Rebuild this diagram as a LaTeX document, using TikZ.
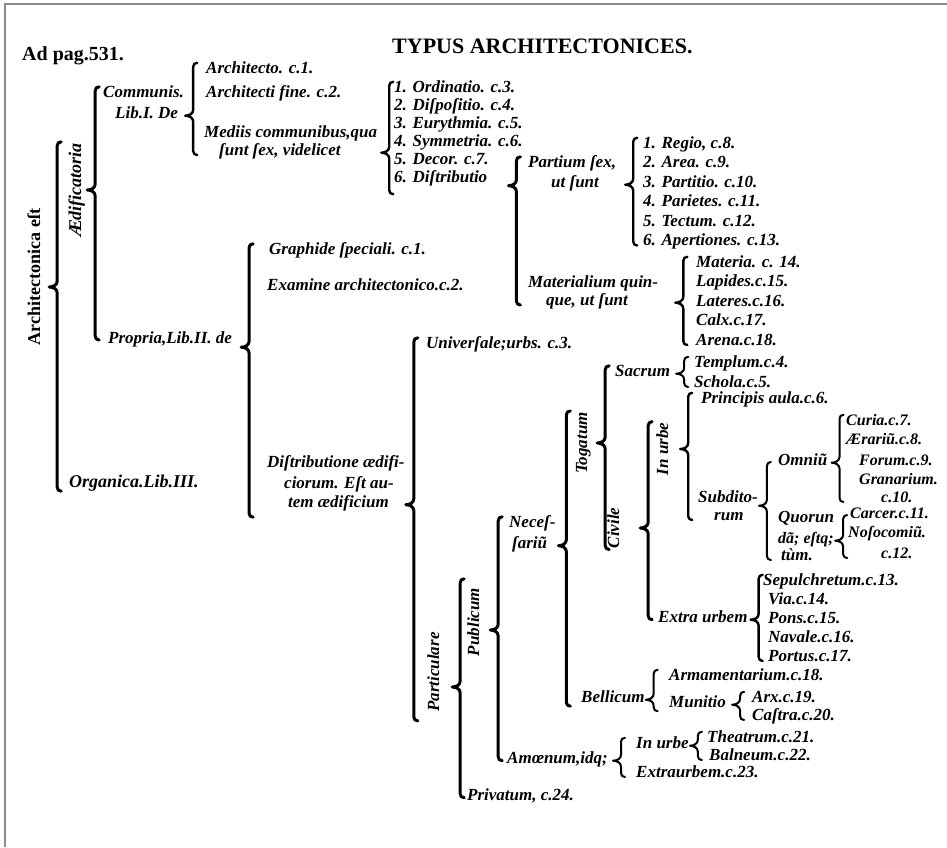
\documentclass[tikz,border=0pt]{standalone}
\usepackage{fontspec}
\setmainfont{Liberation Serif}
\usetikzlibrary{positioning,calc}

\begin{document}
\begin{tikzpicture}[
  x=1pt, y=-1pt,
  lbl/.style={font=\bfseries\itshape\fontsize{17}{20}\selectfont, inner sep=1pt,
              text height=9pt, text depth=3pt, anchor=base west},
  sml/.style={lbl, font=\bfseries\itshape\fontsize{16}{19}\selectfont},
  rot/.style={lbl, rotate=90, anchor=center},
  brc/.style={line width=#1, line cap=round, line join=round},
  brc/.default=2pt,
  brk/.style={to path={let \p1=(\tikztostart), \p2=(\tikztotarget),
      \n1={sign(\y2-\y1)} in
      .. controls (\x1+4pt,\y1) and (\x1+8pt,\y1+\n1*2pt) .. (\x1+8pt,\y1+\n1*6pt)
      -- (\x1+8pt,\y2-\n1*4pt)
      .. controls (\x1+8pt,\y2-\n1*1.5pt) and (\x1+9.5pt,\y2) .. (\x1+12pt,\y2)}},
]
  \useasboundingbox (0,0) rectangle (947,847);
  \draw[black!45, line width=2pt] (947,4) -- (5,4) -- (5,847);

  % heading
  \node[lbl, font=\bfseries\fontsize{20}{22}\selectfont] (pag) at (21,60) {Ad pag.531.};
  \node[lbl, font=\bfseries\fontsize{22}{26}\selectfont] (title) at (391,53) {TYPUS ARCHITECTONICES.};

  % first division
  \node[rot, font=\bfseries\fontsize{18}{22}\selectfont] (arch) at (37,277) {Architectonica eſt};
  \node[rot, font=\bfseries\itshape\fontsize{18}{20}\selectfont] (aedif) at (78,190) {Ædificatoria};
  \node[lbl, font=\bfseries\itshape\fontsize{18}{20}\selectfont] (organ) at (68,487) {Organica.Lib.III.};

  % Lib. I
  \node[lbl] (comm1) at (102,97) {Communis.};
  \node[lbl] (comm2) at (114,118) {Lib.I. De};
  \node[lbl] (arc1) at (205,73) {Architecto. c.1.};
  \node[lbl, below=24pt of arc1.base west, anchor=base west] (arc2) {Architecti fine. c.2.};
  \node[lbl] (med1) at (203,137) {Mediis communibus,qua};
  \node[lbl] (med2) at (218,155) {ſunt ſex, videlicet};

  \node[lbl] (ord1) at (393,92) {1. Ordinatio. c.3.};
  \node[lbl, below=18pt of ord1.base west, anchor=base west] (ord2) {2. Diſpoſitio. c.4.};
  \node[lbl, below=18pt of ord2.base west, anchor=base west] (ord3) {3. Eurythmia. c.5.};
  \node[lbl, below=18pt of ord3.base west, anchor=base west] (ord4) {4. Symmetria. c.6.};
  \node[lbl, below=18pt of ord4.base west, anchor=base west] (ord5) {5. Decor. c.7.};
  \node[lbl, below=18pt of ord5.base west, anchor=base west] (ord6) {6. Diſtributio};

  \node[lbl] (part1) at (527,167) {Partium ſex,};
  \node[lbl] (part2) at (550,187) {ut ſunt};
  \node[lbl] (reg1) at (642,148) {1. Regio, c.8.};
  \node[lbl, below=19.5pt of reg1.base west, anchor=base west] (reg2) {2. Area. c.9.};
  \node[lbl, below=19.5pt of reg2.base west, anchor=base west] (reg3) {3. Partitio. c.10.};
  \node[lbl, below=19.5pt of reg3.base west, anchor=base west] (reg4) {4. Parietes. c.11.};
  \node[lbl, below=19.5pt of reg4.base west, anchor=base west] (reg5) {5. Tectum. c.12.};
  \node[lbl, below=19.5pt of reg5.base west, anchor=base west] (reg6) {6. Apertiones. c.13.};

  \node[lbl] (mat1) at (527,287) {Materialium quin-};
  \node[lbl] (mat2) at (545,305) {que, ut ſunt};
  \node[lbl] (mt1) at (695,267) {Materia. c. 14.};
  \node[lbl, below=19.5pt of mt1.base west, anchor=base west] (mt2) {Lapides.c.15.};
  \node[lbl, below=19.5pt of mt2.base west, anchor=base west] (mt3) {Lateres.c.16.};
  \node[lbl, below=19.5pt of mt3.base west, anchor=base west] (mt4) {Calx.c.17.};
  \node[lbl, below=19.5pt of mt4.base west, anchor=base west] (mt5) {Arena.c.18.};

  % Lib. II
  \node[lbl] (prop) at (107,343) {Propria,Lib.II. de};
  \node[lbl] (gra) at (268,254) {Graphide ſpeciali. c.1.};
  \node[lbl] (exa) at (266,290) {Examine architectonico.c.2.};
  \node[lbl] (dis1) at (266,467) {Diſtributione ædifi-};
  \node[lbl] (dis2) at (283,488) {ciorum. Eſt au-};
  \node[lbl] (dis3) at (287,507) {tem ædificium};

  \node[lbl] (uni) at (425,348) {Univerſale;urbs. c.3.};
  \node[rot] (ptc) at (436,672) {Particulare};
  \node[rot] (pub) at (476,622) {Publicum};
  \node[lbl] (pri) at (466,800) {Privatum, c.24.};
  \node[lbl] (nec1) at (508,527) {Neceſ-};
  \node[lbl] (nec2) at (511,548) {ſariũ};
  \node[lbl] (amo) at (506,763) {Amœnum,idq;};
  \node[rot] (tog) at (584,443) {Togatum};
  \node[lbl] (bel) at (580,702) {Bellicum};
  \node[lbl] (sac) at (614,376) {Sacrum};
  \node[rot] (civ) at (616,528) {Civile};
  \node[lbl] (tem) at (693,367) {Templum.c.4.};
  \node[lbl] (sch) at (693,387) {Schola.c.5.};
  \node[rot] (iu) at (665,449) {In urbe};
  \node[lbl] (ext) at (657,622) {Extra urbem};
  \node[lbl] (pa) at (700,403) {Principis aula.c.6.};
  \node[lbl] (sub1) at (697,502) {Subdito-};
  \node[lbl] (sub2) at (713,520) {rum};
  \node[lbl] (om) at (777,465) {Omniũ};
  \node[sml] (cu) at (845,425) {Curia.c.7.};
  \node[sml, below=19pt of cu.base west, anchor=base west] (aer) {Ærariũ.c.8.};
  \node[sml] (fo) at (858,465) {Forum.c.9.};
  \node[sml, below=19pt of fo.base west, anchor=base west] (gr) {Granarium.};
  \node[sml] (c10) at (880,502) {c.10.};
  \node[lbl] (q1) at (777,522) {Quorun};
  \node[sml] (q2) at (777,543) {dã; eſtq;};
  \node[lbl] (q3) at (780,560) {tùm.};
  \node[sml] (ca) at (849,518) {Carcer.c.11.};
  \node[sml] (no) at (847,537) {Noſocomiũ.};
  \node[sml] (c12) at (880,558) {c.12.};
  \node[lbl] (se) at (762,585) {Sepulchretum.c.13.};
  \node[lbl, below right=19pt and 5pt of se.base west, anchor=base west] (vi) {Via.c.14.};
  \node[lbl, below=19pt of vi.base west, anchor=base west] (pn) {Pons.c.15.};
  \node[lbl, below=19pt of pn.base west, anchor=base west] (na) {Navale.c.16.};
  \node[lbl, below=19pt of na.base west, anchor=base west] (po) {Portus.c.17.};
  \node[lbl] (arm) at (668,680) {Armamentarium.c.18.};
  \node[lbl] (mun) at (668,707) {Munitio};
  \node[lbl] (arx) at (751,702) {Arx.c.19.};
  \node[lbl] (cas) at (751,720) {Caſtra.c.20.};
  \node[lbl] (iu2) at (635,748) {In urbe};
  \node[lbl] (eu) at (635,777) {Extraurbem.c.23.};
  \node[lbl] (th) at (706,742) {Theatrum.c.21.};
  \node[lbl] (ba) at (708,760) {Balneum.c.22.};

  % braces, tip at the parent
  \draw[brc=3pt] ([shift={(5pt,-10pt)}]arch.south) to[brk] (aedif.east)
                 ([shift={(5pt,-10pt)}]arch.south) to[brk] (organ.south west);
  \draw[brc=3pt] ([xshift=2pt]aedif.south) to[brk] (comm1.north west)
                 ([xshift=2pt]aedif.south) to[brk] (prop.west);
  \draw[brc=2.4pt] ([xshift=6pt]comm2.mid east) to[brk] (arc1.north west)
                   ([xshift=6pt]comm2.mid east) to[brk] (med2.base west);
  \draw[brc=2.4pt] ([xshift=3pt]med1.east |- med2.mid east) to[brk] (ord1.north west)
                   ([xshift=3pt]med1.east |- med2.mid east) to[brk] ([yshift=-8pt]ord6.south west);
  \draw[brc=3pt] ([shift={(20pt,-6pt)}]ord6.mid east) to[brk] (part1.north west)
                 ([shift={(20pt,-6pt)}]ord6.mid east) to[brk] (mat2.base west);
  \draw[brc=2.4pt] ([xshift=8pt]part1.east |- part2.mid east) to[brk] (reg1.north west)
                   ([xshift=8pt]part1.east |- part2.mid east) to[brk] (reg6.base west);
  \draw[brc=2.4pt] ([xshift=16pt]mat1.east |- mat2.mid east) to[brk] (mt1.north west)
                   ([xshift=16pt]mat1.east |- mat2.mid east) to[brk] (mt5.base west);
  \draw[brc=3pt] ([xshift=8pt]prop.south east) to[brk] (gra.north west)
                 ([xshift=8pt]prop.south east) to[brk] ([yshift=-6pt]dis3.south west);
  \draw[brc=3pt] (dis1.east |- dis3.mid east) to[brk] (uni.north west)
                 (dis1.east |- dis3.mid east) to[brk] ([yshift=-8pt]ptc.west);
  \draw[brc=3pt] ([shift={(9pt,-15pt)}]ptc.south) to[brk] ([yshift=8pt]pub.east)
                 ([shift={(9pt,-15pt)}]ptc.south) to[brk] (pri.mid west);
  \draw[brc=3pt] ([shift={(7pt,-8pt)}]pub.south) to[brk] (nec1.north west)
                 ([shift={(7pt,-8pt)}]pub.south) to[brk] (amo.mid west);
  \draw[brc=3pt] ([xshift=10pt]nec2.mid east) to[brk] (tog.east)
                 ([xshift=10pt]nec2.mid east) to[brk] (bel.south west);
  \draw[brc=3pt] ([xshift=6pt]tog.south) to[brk] (sac.north west)
                 ([xshift=6pt]tog.south) to[brk] (civ.west);
  \draw[brc] ([xshift=5pt]sac.mid east) to[brk] (tem.north west)
             ([xshift=5pt]sac.mid east) to[brk] (sch.base west);
  \draw[brc=3pt] ([xshift=17pt]civ.south) to[brk] (iu.east)
                 ([xshift=17pt]civ.south) to[brk] (ext.mid west);
  \draw[brc=2.4pt] ([xshift=8pt]iu.south) to[brk] (pa.north west)
                   ([xshift=8pt]iu.south) to[brk] (sub2.base west);
  \draw[brc] ([yshift=-6pt]sub1.mid east) to[brk] (om.west)
             ([yshift=-6pt]sub1.mid east) to[brk] (q3.base west);
  \draw[brc] ([xshift=3pt]om.mid east) to[brk] (cu.north west)
             ([xshift=3pt]om.mid east) to[brk] (c10.base west);
  \draw[brc] (q1.east |- q2.mid east) to[brk] (ca.west)
             (q1.east |- q2.mid east) to[brk] (c12.base west);
  \draw[brc=2.4pt] ([xshift=2pt]ext.mid east) to[brk] (se.north west)
                   ([xshift=2pt]ext.mid east) to[brk] (po.base west);
  \draw[brc] (bel.mid east) to[brk] (arm.north west)
             (bel.mid east) to[brk] (mun.south west);
  \draw[brc] ([xshift=5pt]mun.mid east) to[brk] (arx.north west)
             ([xshift=5pt]mun.mid east) to[brk] (cas.base west);
  \draw[brc] ([xshift=4pt]amo.mid east) to[brk] (iu2.north west)
             ([xshift=4pt]amo.mid east) to[brk] (eu.base west);
  \draw[brc] (iu2.mid east) to[brk] (th.north west)
             (iu2.mid east) to[brk] (ba.base west);
\end{tikzpicture}
\end{document}
